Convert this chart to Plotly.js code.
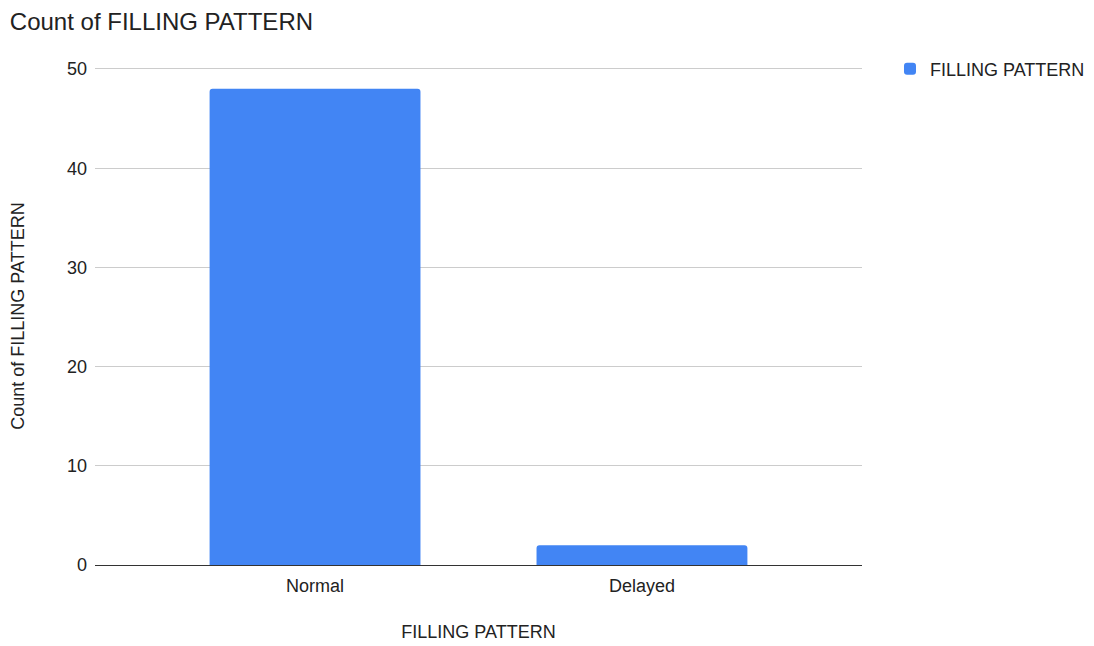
<!DOCTYPE html>
<html><head><meta charset="utf-8">
<script src="https://cdn.plot.ly/plotly-3.0.1.min.js"></script>
<style>html,body{margin:0;padding:0;background:#fff}#chart{width:1094px;height:646px}</style>
</head><body><div id="chart"></div>
<script>
const categories = ["Normal", "Delayed"];
const counts = [48, 2];
const seriesName = "FILLING PATTERN";
const yTicks = [0, 10, 20, 30, 40, 50];

const trace = {
  type: 'bar', x: categories, y: counts, name: seriesName,
  marker: {color: '#4285F4', cornerradius: 3},
  showlegend: true, hoverinfo: 'x+y'
};
const layout = {
  width: 1094, height: 646,
  margin: {l: 95, r: 232, t: 67, b: 81, autoexpand: false},
  paper_bgcolor: '#fff', plot_bgcolor: '#fff',
  font: {family: 'Liberation Sans, Arial, sans-serif', color: '#222', size: 18},
  title: {text: 'Count of FILLING PATTERN', x: 0.009, xanchor: 'left', y: 0.966, yanchor: 'middle',
          font: {size: 24, color: '#222'}},
  bargap: 0.355,
  xaxis: {
    title: {text: 'FILLING PATTERN', font: {size: 18, color: '#222'}, standoff: 30},
    range: [-0.673, 1.673],
    showline: true, linecolor: '#333', linewidth: 1.2, ticks: '', showgrid: false,
    ticklabelstandoff: 4,
    tickfont: {size: 18, color: '#222'}
  },
  yaxis: {
    title: {text: 'Count of FILLING PATTERN', font: {size: 18, color: '#222'}, standoff: 37},
    range: [0, 50.2], tickvals: yTicks, ticktext: yTicks.map(String),
    gridcolor: '#cccccc', gridwidth: 1, zeroline: false, showline: false,
    ticks: '', ticklen: 0, ticklabelstandoff: 7, tickfont: {size: 18, color: '#222'}
  },
  legend: {x: 1.0365, xanchor: 'left', y: 0.996, yanchor: 'middle', font: {size: 18, color: '#222'}}
};
Plotly.newPlot('chart', [trace], layout, {displayModeBar: false, staticPlot: true});
</script></body></html>
